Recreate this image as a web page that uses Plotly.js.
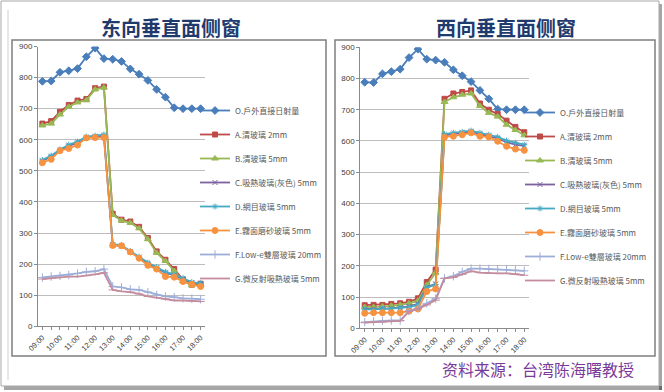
<!DOCTYPE html>
<html><head><meta charset="utf-8">
<script src="https://cdn.plot.ly/plotly-3.0.1.min.js"></script>
<style>html,body{margin:0;padding:0;background:#fff}#c{width:664px;height:392px}</style>
</head><body><div id="c"></div>
<script>
const times = ['09:00','09:30','10:00','10:30','11:00','11:30','12:00','12:30','13:00','13:30','14:00','14:30','15:00','15:30','16:00','16:30','17:00','17:30','18:00'];
const tickText = ['09:00','','10:00','','11:00','','12:00','','13:00','','14:00','','15:00','','16:00','','17:00','','18:00'];
const seriesNames = ['O.戶外直接日射量','A.清玻璃 2mm','B.清玻璃 5mm','C.吸熱玻璃(灰色) 5mm','D.網目玻璃 5mm','E.霧面磨砂玻璃 5mm','F.Low-e雙層玻璃 20mm','G.微反射吸熱玻璃 5mm'];

// East-facing (left panel)
const eastO = [788,789,817,822,829,867,895,861,859,852,828,811,791,762,737,703,700,700,700];
const eastA = [652,660,690,712,726,731,766,771,362,343,337,320,284,241,214,184,150,134,137];
const eastB = [646,652,681,706,720,727,762,768,358,340,333,315,280,236,210,178,146,132,133];
const eastC = [532,546,566,580,590,607,610,612,262,258,240,222,202,188,172,164,152,140,135];
const eastD = [535,549,569,584,594,610,613,617,264,260,242,224,205,190,175,166,155,142,138];
const eastE = [526,537,565,572,583,606,607,607,260,259,239,219,196,184,160,158,144,135,128];
const eastF = [157,160,162,165,170,175,177,184,128,125,119,117,110,101,96,94,90,89,87];
const eastG = [152,155,157,160,160,163,167,172,117,112,110,104,96,92,88,83,83,82,80];

// West-facing (right panel)
const westO = [788,787,815,822,830,867,894,862,859,852,828,809,790,762,735,702,700,700,700];
const westA = [74,75,75,78,80,85,96,148,188,735,752,757,762,720,700,686,665,645,628];
const westB = [68,68,70,72,75,80,88,138,178,725,740,748,752,712,690,678,652,635,618];
const westC = [62,62,63,64,66,70,78,132,142,618,622,626,630,622,616,608,596,588,584];
const westD = [60,60,62,63,65,68,75,130,140,622,626,629,633,626,620,613,601,594,588];
const westE = [48,50,50,50,50,55,62,118,126,612,615,620,626,615,613,599,583,574,570];
const westF = [20,22,24,25,25,56,64,80,95,160,167,181,191,191,190,189,188,186,184];
const westG = [18,20,20,22,24,54,62,75,90,160,163,173,183,178,176,176,176,174,170];

const colors = ['#4A7EBB','#BE4B48','#98B954','#7D60A0','#46AAC5','#F69240','#9DAED8','#C48C9E'];
const symbols = ['diamond','square','triangle-up','x-thin-open','asterisk-open','circle','cross-thin-open','line-ew-open'];
const msize = [6,5,6,5,5,6,6,6];

const eastData = [eastO,eastA,eastB,eastC,eastD,eastE,eastF,eastG];
const westData = [westO,westA,westB,westC,westD,westE,westF,westG];

const traces = [];
function addPanel(data, xa, ya, leg){
  data.forEach((ys,i)=>{
    traces.push({
      type:'scatter', mode:'lines+markers', x:times, y:ys, xaxis:xa, yaxis:ya,
      name:seriesNames[i], legend:leg, legendgroup:leg+i,
      line:{color:colors[i], width:1.8},
      marker:{symbol:symbols[i], size:msize[i], color:colors[i], line:{color:colors[i], width:1}}
    });
  });
}
addPanel(eastData,'x','y','legend');
addPanel(westData,'x2','y2','legend2');

const W=664,H=392;
const px=v=>v/W, py=v=>1-v/H;

const axisY = {range:[0,900], dtick:100, showgrid:true, gridcolor:'#BDBDBD', gridwidth:1,
  showline:true, linecolor:'#8A8A8A', linewidth:1, ticks:'outside', ticklen:3, tickcolor:'#8A8A8A',
  tickfont:{size:8, color:'#404040', family:'Liberation Sans, Arial'}, zeroline:false, fixedrange:true};
const axisX = {type:'category', range:[-0.5,18.5], tickvals:times, ticktext:tickText, tickangle:-45,
  showline:true, linecolor:'#8A8A8A', linewidth:1, ticks:'outside', ticklen:3, tickcolor:'#8A8A8A',
  tickfont:{size:7.5, color:'#404040', family:'Liberation Sans, Arial'}, showgrid:false, fixedrange:true};

const legBase = {traceorder:'grouped', tracegroupgap:5, itemwidth:30, bgcolor:'rgba(0,0,0,0)',
  font:{size:8, color:'#595959', family:'Noto Sans CJK TC'}, xanchor:'left', yanchor:'top'};

const layout = {
  width:W, height:H, margin:{l:0,r:0,t:0,b:0}, paper_bgcolor:'#fff', plot_bgcolor:'#fff',
  showlegend:true,
  xaxis:Object.assign({}, axisX, {domain:[px(38),px(205)], anchor:'y'}),
  yaxis:Object.assign({}, axisY, {domain:[py(326.3),py(46.5)], anchor:'x'}),
  xaxis2:Object.assign({}, axisX, {domain:[px(360.3),px(528.7)], anchor:'y2'}),
  yaxis2:Object.assign({}, axisY, {domain:[py(328.3),py(47.3)], anchor:'x2'}),
  legend:Object.assign({}, legBase, {x:px(195), y:py(96)}),
  legend2:Object.assign({}, legBase, {x:px(520), y:py(98)}),
  shapes:[
    {type:'rect', xref:'paper', yref:'paper', x0:px(4), x1:px(662), y0:py(390), y1:py(386), fillcolor:'rgba(0,0,0,0.35)', line:{width:0}},
    {type:'rect', xref:'paper', yref:'paper', x0:px(659), x1:px(662), y0:py(390), y1:py(4), fillcolor:'rgba(0,0,0,0.35)', line:{width:0}},
    {type:'rect', xref:'paper', yref:'paper', x0:px(1), x1:px(659), y0:py(386), y1:py(1), line:{color:'#A8A8A8', width:1}},
    {type:'line', xref:'paper', yref:'paper', x0:px(8), x1:px(8), y0:py(380), y1:py(10), line:{color:'#CFCFCF', width:1}},
    {type:'rect', xref:'paper', yref:'paper', x0:px(12), x1:px(326), y0:py(356), y1:py(40), line:{color:'#7F7F7F', width:1.5}},
    {type:'rect', xref:'paper', yref:'paper', x0:px(335), x1:px(655), y0:py(356), y1:py(40), line:{color:'#7F7F7F', width:1.5}}
  ],
  annotations:[
    {text:'东向垂直面侧窗', xref:'paper', yref:'paper', x:px(171), y:py(28), xanchor:'center', yanchor:'middle', showarrow:false,
      font:{size:20, color:'#1F3B6E', family:'Noto Sans CJK SC', weight:700}},
    {text:'西向垂直面侧窗', xref:'paper', yref:'paper', x:px(506), y:py(28), xanchor:'center', yanchor:'middle', showarrow:false,
      font:{size:20, color:'#1F3B6E', family:'Noto Sans CJK SC', weight:700}},
    {text:'资料来源：台湾陈海曙教授', xref:'paper', yref:'paper', x:px(538), y:py(369), xanchor:'center', yanchor:'middle', showarrow:false,
      font:{size:16, color:'#7A3A9A', family:'Noto Sans CJK SC'}}
  ]
};
Plotly.newPlot('c', traces, layout, {staticPlot:true, displayModeBar:false});
</script></body></html>
